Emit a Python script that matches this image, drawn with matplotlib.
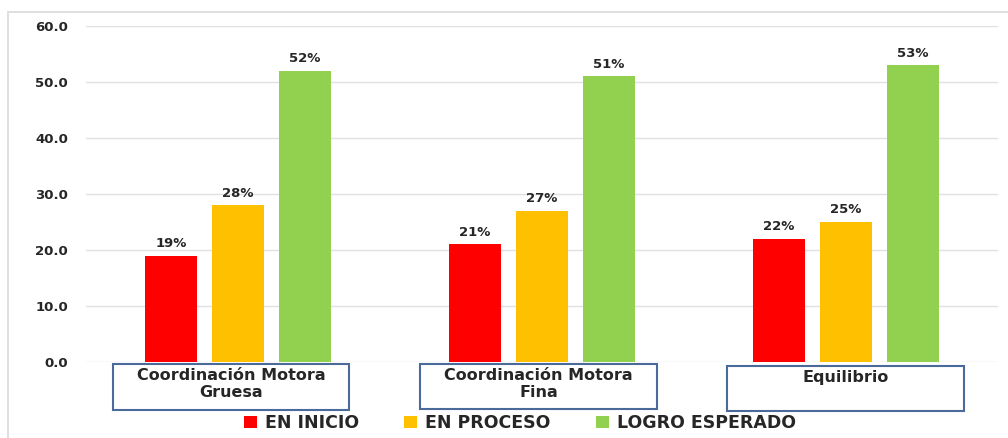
import matplotlib
matplotlib.use("Agg")
import matplotlib.pyplot as plt
from matplotlib.patches import Rectangle
import numpy as np

categories = ["Coordinación Motora\nGruesa", "Coordinación Motora\nFina", "Equilibrio"]
series_names = ["EN INICIO", "EN PROCESO", "LOGRO ESPERADO"]
en_inicio = [19, 21, 22]
en_proceso = [28, 27, 25]
logro_esperado = [52, 51, 53]
colors = ["#ff0000", "#ffc000", "#92d050"]
yticks = [0, 10, 20, 30, 40, 50, 60]

W, H = 1008, 438
fig = plt.figure(figsize=(W / 100, H / 100), dpi=100)
plt.rcParams['font.family'] = ['DejaVu Sans']

# outer border
fig.patches.append(Rectangle((8 / W, -0.1), 1.2, (H - 12) / H + 0.1, transform=fig.transFigure,
                             fill=False, edgecolor="#d9d9d9", linewidth=1.2))

ax = fig.add_axes([86 / W, (H - 362) / H, (998 - 86) / W, (362 - 26) / H])
x = np.arange(len(categories))
width = 0.172
step = 0.22
series = [en_inicio, en_proceso, logro_esperado]
for i, (vals, name, c) in enumerate(zip(series, series_names, colors)):
    bars = ax.bar(x + (i - 1) * step, vals, width, color=c, label=name, zorder=3)
    for b, v in zip(bars, vals):
        ax.annotate(f"{v}%", (b.get_x() + b.get_width() / 2, v), xytext=(0, 4),
                    textcoords="offset points", ha="center", va="bottom",
                    fontsize=9.5, fontweight="bold", color="#262626")

ax.set_xlim(-0.5, 2.5)
ax.set_ylim(0, 60)
ax.set_yticks(yticks)
ax.set_yticklabels([f"{t:.1f}" for t in yticks], fontsize=9.5, fontweight="bold", color="#262626")
ax.tick_params(axis="y", length=0, pad=13)
ax.set_xticks([])
ax.yaxis.grid(True, color="#e0e0e0", linewidth=1.0, zorder=0)
for s in ax.spines.values():
    s.set_visible(False)

# category label boxes
box_specs = [(113, 364, 349, 410), (420, 364, 657, 409), (727, 366, 964, 411)]
for cat, (x0, y0, x1, y1) in zip(categories, box_specs):
    r = Rectangle((x0 / W, 1 - y1 / H), (x1 - x0) / W, (y1 - y0) / H, transform=fig.transFigure,
                  fill=True, facecolor="white", edgecolor="#4a6a9c", linewidth=1.5)
    fig.patches.append(r)
    fig.text((x0 + x1) / 2 / W, 1 - (y0 + 4) / H, cat, ha="center", va="top",
             fontsize=11.5, fontweight="bold", color="#262626", linespacing=1.15)

leg = fig.legend(loc="center", bbox_to_anchor=(520 / W, 1 - 423 / H), ncol=3, frameon=False,
                 prop={"size": 12.5, "weight": "bold"}, handlelength=0.75, handleheight=0.75,
                 columnspacing=2.6, handletextpad=0.45)
for t in leg.get_texts():
    t.set_color("#262626")

fig.savefig("out.png", dpi=100)
